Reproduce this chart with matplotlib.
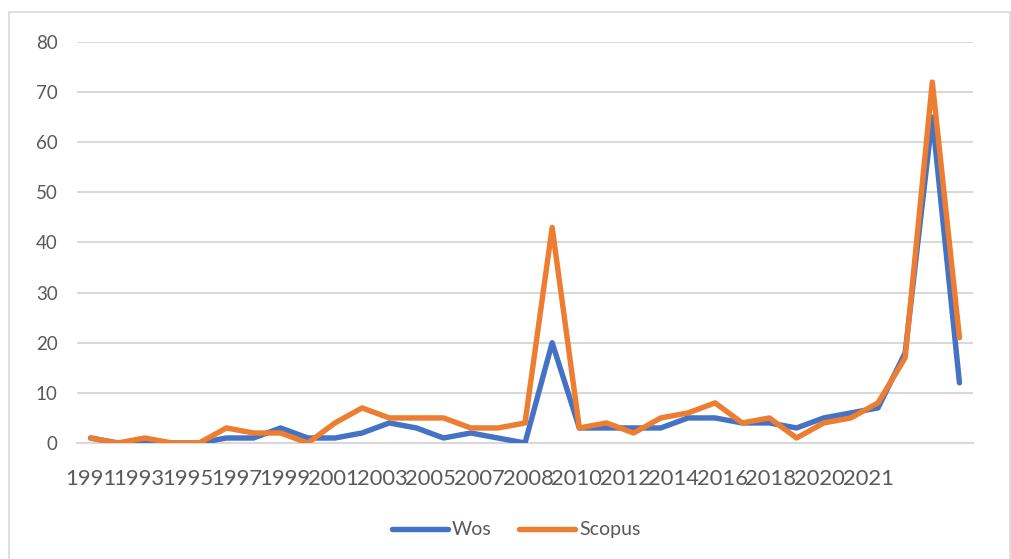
import matplotlib
matplotlib.use("Agg")
import matplotlib.pyplot as plt
from matplotlib.patches import Rectangle

# Publications per year, 1991-2023
years = list(range(1991, 2024))
wos = [1, 0, 0, 0, 0, 1, 1, 3, 1, 1, 2, 4, 3, 1, 2, 1, 0,
       20, 3, 3, 3, 3, 5, 5, 4, 4, 3, 5, 6, 7, 18, 65, 12]
scopus = [1, 0, 1, 0, 0, 3, 2, 2, 0, 4, 7, 5, 5, 5, 3, 3, 4,
          43, 3, 4, 2, 5, 6, 8, 4, 5, 1, 4, 5, 8, 17, 72, 21]
tick_labels = ["1991", "1993", "1995", "1997", "1999", "2001", "2003",
               "2005", "2007", "2008", "2010", "2012", "2014", "2016",
               "2018", "2020", "2021"]
y_ticks = [0, 10, 20, 30, 40, 50, 60, 70, 80]

BLUE = "#4472C4"
ORANGE = "#ED7D31"
GRID = "#D9D9D9"
TEXT = "#595959"
FONT = "Lato"

fig = plt.figure(figsize=(10.12, 5.59), dpi=100)
ax = fig.add_axes([0.0761, 0.2075, 0.8854, 0.7174])

x = list(range(len(years)))
ax.plot(x, wos, color=BLUE, lw=3.9, solid_joinstyle="round",
        solid_capstyle="round", label="Wos", zorder=3)
ax.plot(x, scopus, color=ORANGE, lw=3.9, solid_joinstyle="round",
        solid_capstyle="round", label="Scopus", zorder=4)

ax.set_xlim(-0.5, len(years) - 0.5)
ax.set_ylim(0, 80)
ax.set_yticks(y_ticks)
ax.set_yticklabels([str(v) for v in y_ticks], fontsize=13.5,
                   color=TEXT, family=FONT)
ax.yaxis.grid(True, color=GRID, lw=1.5)
ax.set_axisbelow(True)

# The category labels run together at a fixed pitch along the axis
label_pitch = 1.79
ax.set_xticks([i * label_pitch for i in range(len(tick_labels))])
ax.set_xticklabels(tick_labels, fontsize=15.8, color=TEXT, family=FONT)
ax.tick_params(axis="both", length=0)
ax.tick_params(axis="x", pad=19)
ax.tick_params(axis="y", pad=14)

for side in ("top", "right", "left"):
    ax.spines[side].set_visible(False)
ax.spines["bottom"].set_color(GRID)
ax.spines["bottom"].set_linewidth(1.5)

leg = fig.legend(loc="center", bbox_to_anchor=(0.51, 0.052), ncol=2,
                 frameon=False, handlelength=2.9, columnspacing=1.4,
                 handletextpad=0.2,
                 prop={"family": FONT, "size": 14})
for t in leg.get_texts():
    t.set_color(TEXT)

fig.patches.append(Rectangle((0.009, -0.01), 0.989, 0.989,
                             transform=fig.transFigure, fill=False,
                             edgecolor=GRID, lw=1.2))

fig.savefig("out.png", dpi=100, facecolor="white")
